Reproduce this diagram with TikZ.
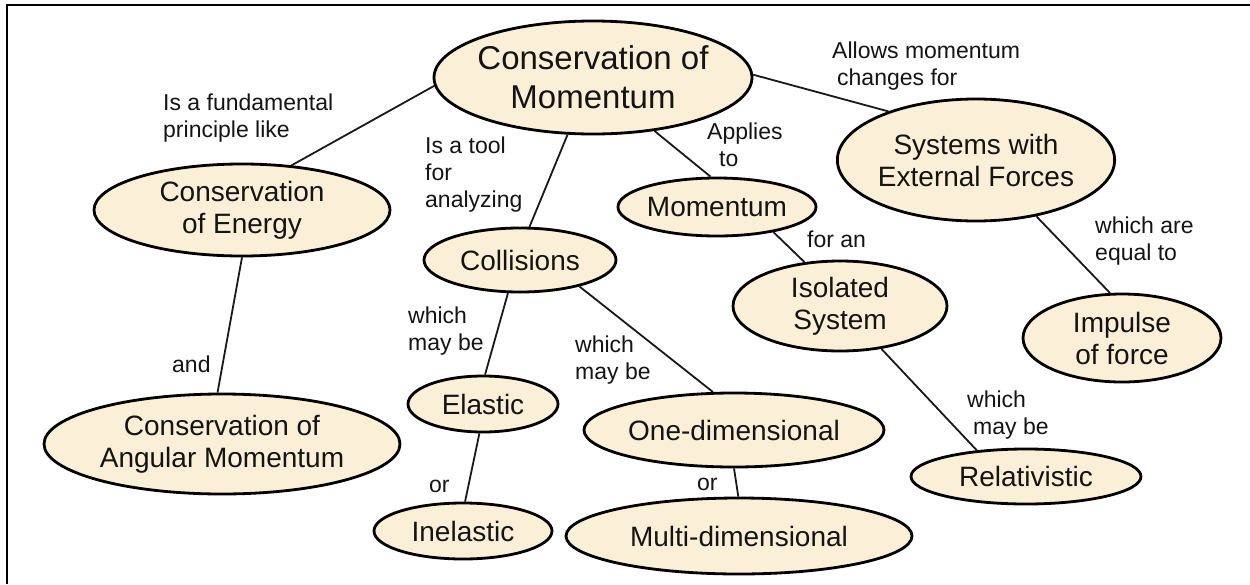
\documentclass[tikz,border=0pt]{standalone}
\usepackage{fontspec}
\setmainfont{Liberation Sans}
\usetikzlibrary{shapes.geometric}
\definecolor{fillc}{RGB}{252,239,216}
\definecolor{txt}{RGB}{20,20,20}
\begin{document}
\begin{tikzpicture}[x=1pt,y=-1pt,
  concept/.style={ellipse, draw=black, line width=2.8pt, fill=fillc, inner sep=0pt,
    align=center, font=\fontsize{28}{32}\selectfont, text=txt},
  lbl/.style={anchor=north west, inner sep=0pt, align=left,
    font=\fontsize{23}{27}\selectfont, text=txt},
  link/.style={line width=1.8pt, draw=black!90}]
\useasboundingbox (0,0) rectangle (1250,584);
\fill[white] (0,0) rectangle (1250,584);
\draw[line width=2pt] (6.7,584) -- (6.7,5) -- (1250,5);

\node[concept, minimum width=318pt, minimum height=113pt, inner xsep=-4pt,
      font=\fontsize{33}{39}\selectfont] (cm) at (593,77.5) {Conservation of\\Momentum};
\node[concept, minimum width=296pt, minimum height=92pt] (ce) at (242,210) {Conservation\\of Energy};
\node[concept, minimum width=356pt, minimum height=100pt] (cam) at (222,444) {Conservation of\\Angular Momentum};
\node[concept, minimum width=192pt, minimum height=64pt] (coll) at (520,260) {Collisions};
\node[concept, minimum width=192pt, minimum height=58pt] (mom) at (717,207) {Momentum};
\node[concept, minimum width=214pt, minimum height=90pt] (iso) at (840,306) {Isolated\\System};
\node[concept, minimum width=266pt, minimum height=122pt] (sys) at (976,160) {Systems with\\External Forces};
\node[concept, minimum width=198pt, minimum height=88pt] (imp) at (1122,338) {Impulse\\of force};
\node[concept, minimum width=230pt, minimum height=55pt] (rel) at (1026,476.5) {Relativistic};
\node[concept, minimum width=150pt, minimum height=56pt] (ela) at (483,404) {Elastic};
\node[concept, minimum width=178pt, minimum height=56pt] (inel) at (463,531) {Inelastic};
\node[concept, minimum width=300pt, minimum height=74pt] (one) at (734,430) {One-dimensional};
\node[concept, minimum width=346pt, minimum height=76pt] (multi) at (739,536) {Multi-dimensional};

\draw[link] (ce.42.7) -- (cm.183.8);
\draw[link] (ce.270) -- (cam.95.6);
\draw[link] (cm.246.5) -- (coll.74);
\draw[link] (cm.319) -- (mom.102);
\draw[link] (cm.1) -- (sys.151.2);
\draw[link] (sys.-43) -- (imp.105);
\draw[link] (coll.250) -- (ela.86);
\draw[link] (coll.336.5) -- (one.119);
\draw[link] (ela.263) -- (inel.86);
\draw[link] (one.270) -- (multi.91.5);
\draw[link] (mom.336) -- (iso.129.6);
\draw[link] (iso.314.4) -- (rel.152.5);

\node[lbl] (l1) at (163,94) {Is a fundamental\\principle like};
\node[lbl] (l2) at (425,137) {Is a tool\\for\\analyzing};
\node[lbl] (l3) at (707,123) {Applies\\\hspace*{12pt}to};
\node[lbl] (l4) at (832,42) {Allows momentum\\\hspace*{5pt}changes for};
\node[lbl] (l5) at (1095,217) {which are\\equal to};
\node[lbl] (l6) at (967,391) {which\\\hspace*{6pt}may be};
\node[lbl] (l7) at (807,231) {for an};
\node[lbl] (l8) at (408,307) {which\\may be};
\node[lbl] (l9) at (575,336) {which\\may be};
\node[lbl] (l10) at (429,480) {or};
\node[lbl] (l11) at (697,478) {or};
\node[lbl] (l12) at (172,356) {and};
\end{tikzpicture}
\end{document}
